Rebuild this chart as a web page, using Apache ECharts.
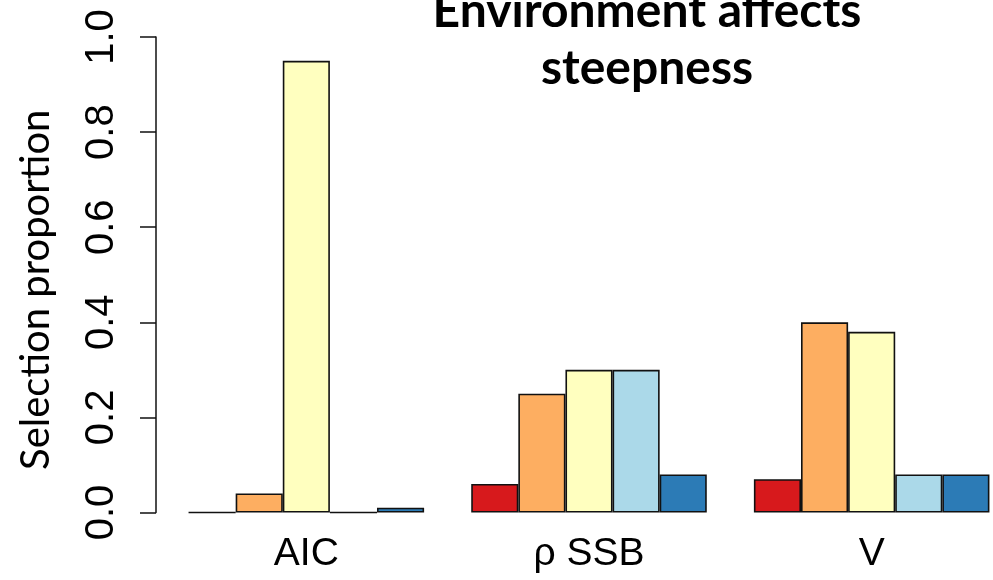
<!DOCTYPE html>
<html>
<head>
<meta charset="utf-8">
<title>Environment affects steepness</title>
<script src="https://cdn.jsdelivr.net/npm/echarts@6/dist/echarts.min.js"></script>
<style>
  html, body { margin: 0; padding: 0; background: #ffffff; }
  #chart { width: 993px; height: 580px; }
</style>
</head>
<body>
<div id="chart"></div>
<script>
// Groups along the x axis
const categories = ['AIC', 'ρ SSB', 'V'];

// Selection proportion of each option within a group (RdYlBu palette order)
const optionRed = [0.00, 0.06, 0.07];
const optionOrange = [0.04, 0.25, 0.40];
const optionYellow = [0.95, 0.30, 0.38];
const optionLightBlue = [0.00, 0.30, 0.08];
const optionBlue = [0.01, 0.08, 0.08];

const seriesValues = [optionRed, optionOrange, optionYellow, optionLightBlue, optionBlue];
const seriesNames = ['Option 1', 'Option 2', 'Option 3', 'Option 4', 'Option 5'];
const seriesColors = ['#D7191C', '#FDAE61', '#FFFFBF', '#ABD9E9', '#2C7BB6'];

// Y axis tick values
const yTicks = [0, 0.2, 0.4, 0.6, 0.8, 1.0];

const chart = echarts.init(document.getElementById('chart'), null, { renderer: 'canvas' });

const series = seriesValues.map((vals, i) => ({
  name: seriesNames[i],
  type: 'bar',
  data: vals,
  barGap: '0%',
  barCategoryGap: '16.667%',
  itemStyle: {
    color: seriesColors[i],
    borderColor: '#111111',
    borderWidth: 1.6
  },
  emphasis: { disabled: true },
  animation: false
}));

chart.setOption({
  backgroundColor: '#ffffff',
  animation: false,
  title: {
    text: 'Environment affects\nsteepness',
    left: 647,
    top: -17,
    textAlign: 'center',
    textVerticalAlign: 'top',
    padding: 0,
    textStyle: {
      fontFamily: 'Lato',
      fontWeight: 'bold',
      fontSize: 48,
      lineHeight: 57,
      color: '#000000'
    }
  },
  grid: {
    left: 165,
    width: 848,
    top: 37,
    bottom: 67.5,
    containLabel: false,
    outerBoundsMode: 'none'
  },
  xAxis: {
    type: 'category',
    data: categories,
    axisLine: { show: false },
    axisTick: { show: false },
    axisLabel: {
      margin: 22,
      fontFamily: 'Liberation Sans',
      fontSize: 39,
      color: '#000000'
    },
    splitLine: { show: false }
  },
  yAxis: {
    type: 'value',
    min: yTicks[0],
    max: yTicks[yTicks.length - 1],
    interval: 0.2,
    offset: 9,
    name: 'Selection proportion',
    nameLocation: 'middle',
    nameGap: 100,
    nameTextStyle: {
      fontFamily: 'Lato',
      fontSize: 40,
      color: '#000000',
      padding: [0, 30, 0, 0]
    },
    axisLine: { show: true, lineStyle: { color: '#111111', width: 1.5 } },
    axisTick: { show: true, length: 16, inside: false, lineStyle: { color: '#111111', width: 1.5 } },
    axisLabel: {
      rotate: 90,
      margin: 34,
      fontFamily: 'Liberation Sans',
      fontSize: 40,
      color: '#000000',
      formatter: v => v.toFixed(1)
    },
    splitLine: { show: false }
  },
  series: series
});
</script>
</body>
</html>
